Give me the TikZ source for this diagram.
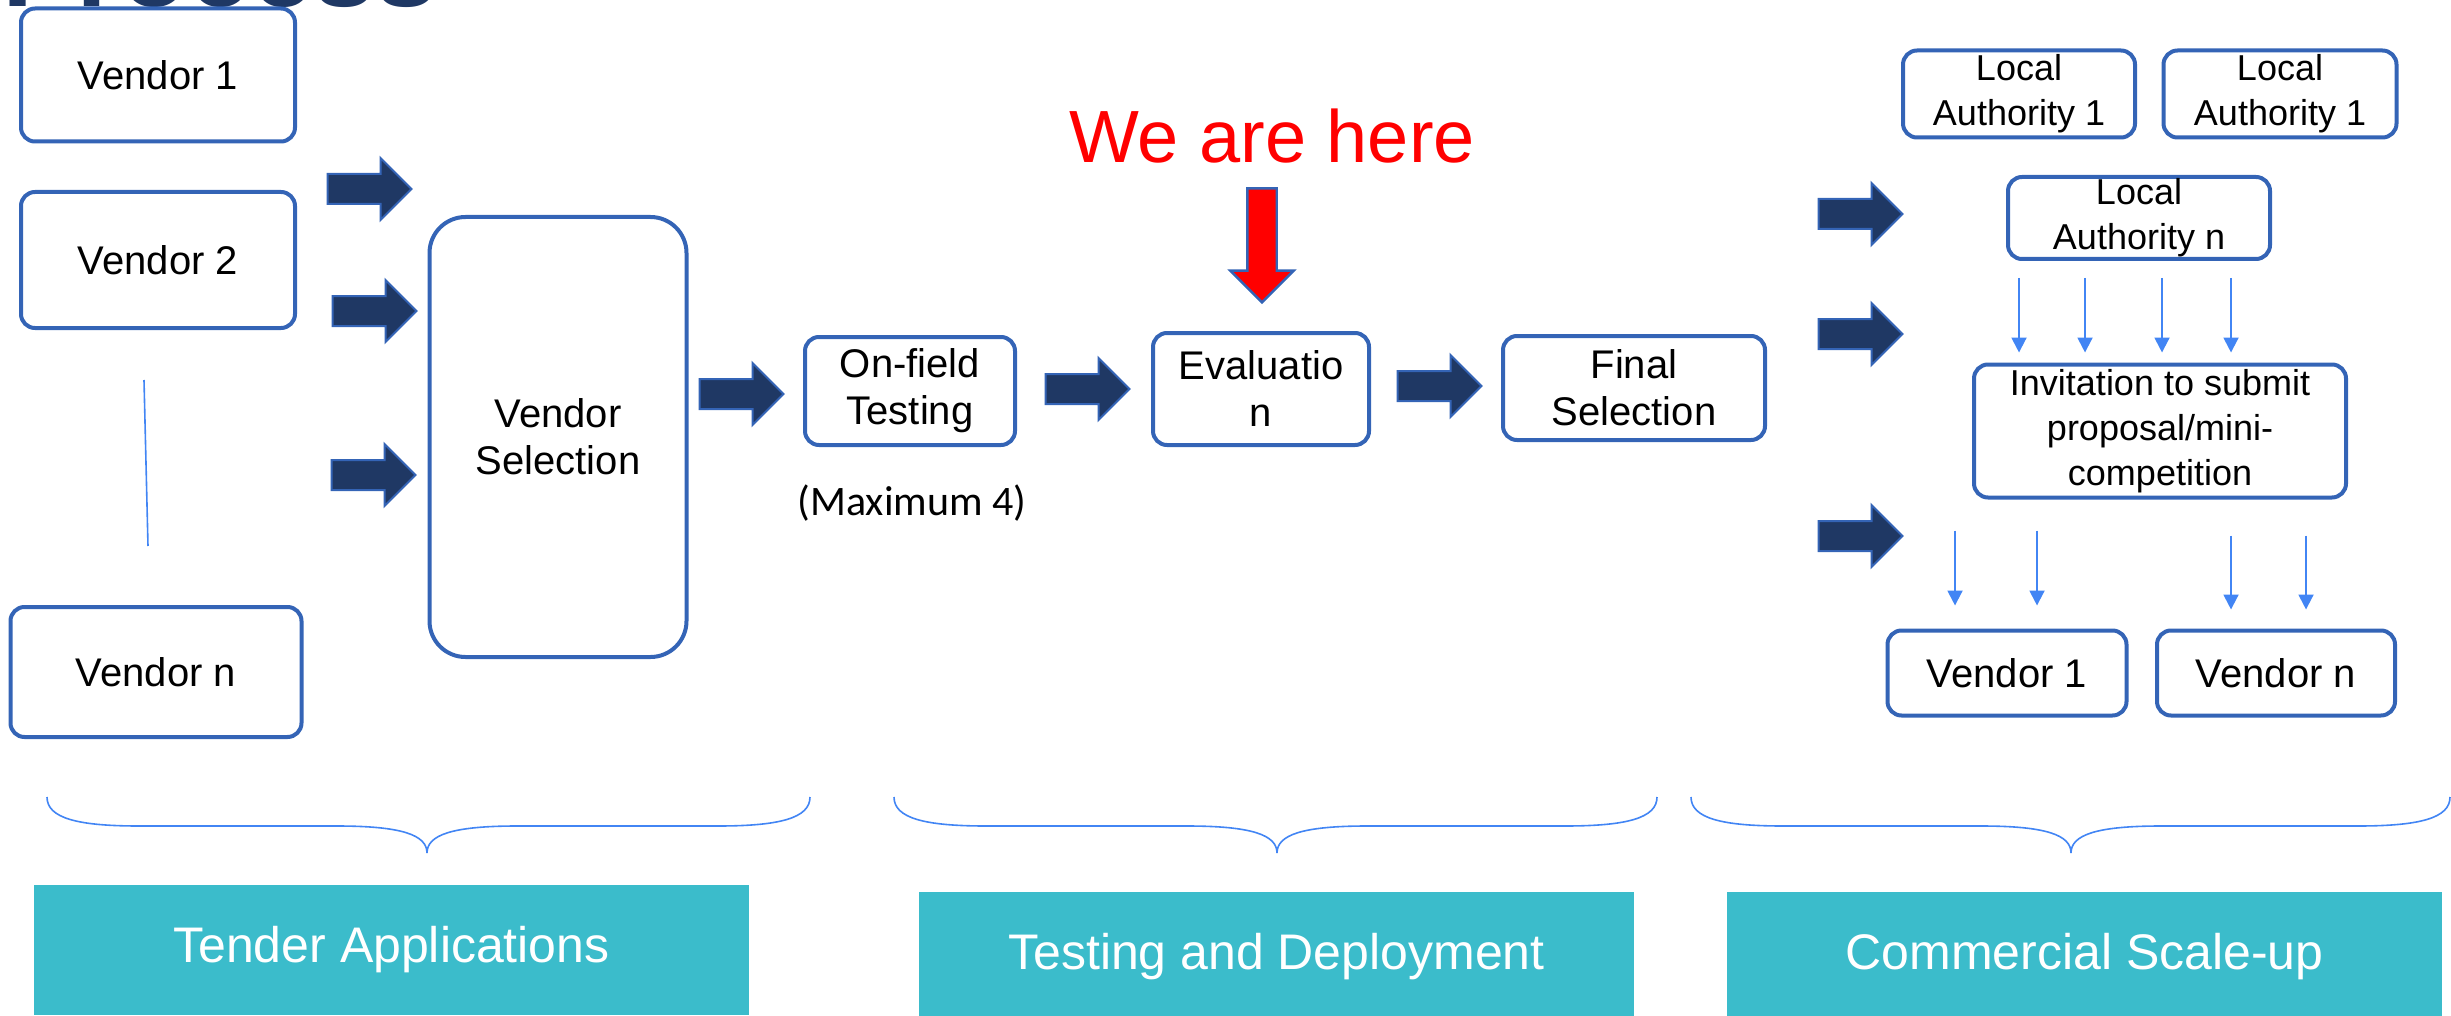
\documentclass[tikz,border=0pt]{standalone}
\usepackage{fontspec}
\setmainfont{Liberation Sans}
\newfontfamily\notefont{Carlito}
\usetikzlibrary{shapes.arrows,arrows.meta}

\definecolor{boxblue}{RGB}{52,100,182}
\definecolor{navy}{RGB}{31,56,100}
\definecolor{lineblue}{RGB}{66,133,244}
\definecolor{stageteal}{RGB}{59,188,203}

\begin{document}
\begin{tikzpicture}[x=0.5pt,y=-0.5pt,
  box/.style={draw=boxblue,line width=2pt,rounded corners=7pt,align=center,inner sep=0pt,
    font=\fontsize{20}{23.5}\selectfont},
  smallbox/.style={box,font=\fontsize{18}{22.5}\selectfont},
  blockarrow/.style={single arrow,draw=boxblue,fill=navy,line width=1pt,inner sep=0pt,
    text height=14pt,text depth=0pt,minimum height=42pt,single arrow head extend=8pt},
  smallarrow/.style={draw=lineblue,line width=1pt,-{Triangle[width=7.5pt,length=7.5pt]}},
  braceline/.style={draw=lineblue,line width=0.8pt},
  stage/.style={fill=stageteal,text=white,minimum width=357.5pt,minimum height=65pt,
    font=\fontsize{25}{30}\selectfont}]
\useasboundingbox (0,0) rectangle (2451,1016);

% heading, cut off at the top
\node[anchor=base west,text=navy,font=\fontsize{56}{60}\selectfont\bfseries] (title) at (-5,7) {Process};

% tender applications
\node[box,minimum width=137pt,minimum height=66.5pt] (v1) at (158,75) {Vendor 1};
\node[box,minimum width=137pt,minimum height=68pt] (v2) at (158,260) {Vendor 2};
\node[box,minimum width=145.5pt,minimum height=65pt] (vn) at (156,672) {Vendor n};
\coordinate (gapTop) at (144,380);
\coordinate (gapBot) at (148,546);
\draw[lineblue,line width=0.8pt] (gapTop) -- (gapBot);
\node[box,rounded corners=18pt,minimum width=128.5pt,minimum height=220pt] (vsel) at (558,437) {Vendor\\Selection};

% testing and deployment
\node[box,minimum width=105pt,minimum height=54pt] (onfield) at (910,391) {On-field\\Testing};
\node[box,minimum width=108pt,minimum height=56pt] (eval) at (1261,389) {Evaluatio\\n};
\node[box,minimum width=131pt,minimum height=52pt] (final) at (1634,388) {Final\\Selection};
\node[font=\notefont\fontsize{21}{25}\selectfont] (maxnote) at (912,503) {(Maximum 4)};
\node[anchor=base,text=red,font=\fontsize{37}{44}\selectfont] (weare) at (1272,163) {We are here};
\node[single arrow,rotate=-90,draw=boxblue,fill=red,line width=1.2pt,inner sep=0pt,
  text height=13.5pt,text depth=0pt,minimum height=57pt,single arrow head extend=8.5pt] (here) at (1262,238) {};

% commercial scale-up
\node[smallbox,minimum width=116pt,minimum height=43.5pt] (la1) at (2019,94) {Local\\Authority 1};
\node[smallbox,minimum width=116.5pt,minimum height=43.5pt] (la2) at (2280,94) {Local\\Authority 1};
\node[smallbox,minimum width=131pt,minimum height=41pt] (laN) at (2139,218) {Local\\Authority n};
\node[smallbox,minimum width=186pt,minimum height=66.5pt] (invite) at (2160,431) {Invitation to submit\\proposal/mini-\\competition};
\node[box,minimum width=119.5pt,minimum height=42.5pt] (rv1) at (2007,673) {Vendor 1};
\node[box,minimum width=119pt,minimum height=42.5pt] (rvn) at (2276,673) {Vendor n};

\foreach \x in {2019,2085,2162,2231}
  \draw[smallarrow,shorten <=8.5pt,shorten >=5pt] (laN.south -| \x,0) -- (invite.north -| \x,0);
\foreach \x in {1955,2037}
  \draw[smallarrow,shorten <=15.5pt,shorten >=11.5pt] (invite.south -| \x,0) -- (rv1.north -| \x,0);
\foreach \x in {2231,2306}
  \draw[smallarrow,shorten <=18pt,shorten >=9.5pt] (invite.south -| \x,0) -- (rvn.north -| \x,0);

% block arrows
\node[blockarrow] (a1) at (362,189) {};
\node[blockarrow] (a2) at (367,311) {};
\node[blockarrow] (a3) at (366,475) {};
\node[blockarrow] (a4) at (734,394) {};
\node[blockarrow] (a5) at (1080,389) {};
\node[blockarrow] (a6) at (1432,386) {};
\node[blockarrow] (a7) at (1853,214) {};
\node[blockarrow] (a8) at (1853,334) {};
\node[blockarrow] (a9) at (1853,536) {};

% braces over the stages
\foreach \l/\m/\r in {47/427/810,894/1277/1657,1691/2071/2450}
  \draw[braceline] (\l,797) .. controls (\l,818) and (\l+30,826) .. (\l+92,826) -- (\m-90,826)
    .. controls (\m-25,826) and (\m,835) .. (\m,853) .. controls (\m,835) and (\m+25,826) .. (\m+90,826)
    -- (\r-92,826) .. controls (\r-30,826) and (\r,818) .. (\r,797);

% stage labels
\node[stage] (tender) at (391.5,950) {Tender Applications};
\node[stage] (testing) at (1276.5,957) {Testing and Deployment};
\node[stage] (scaleup) at (2084.5,957) {Commercial Scale-up};
\end{tikzpicture}
\end{document}
